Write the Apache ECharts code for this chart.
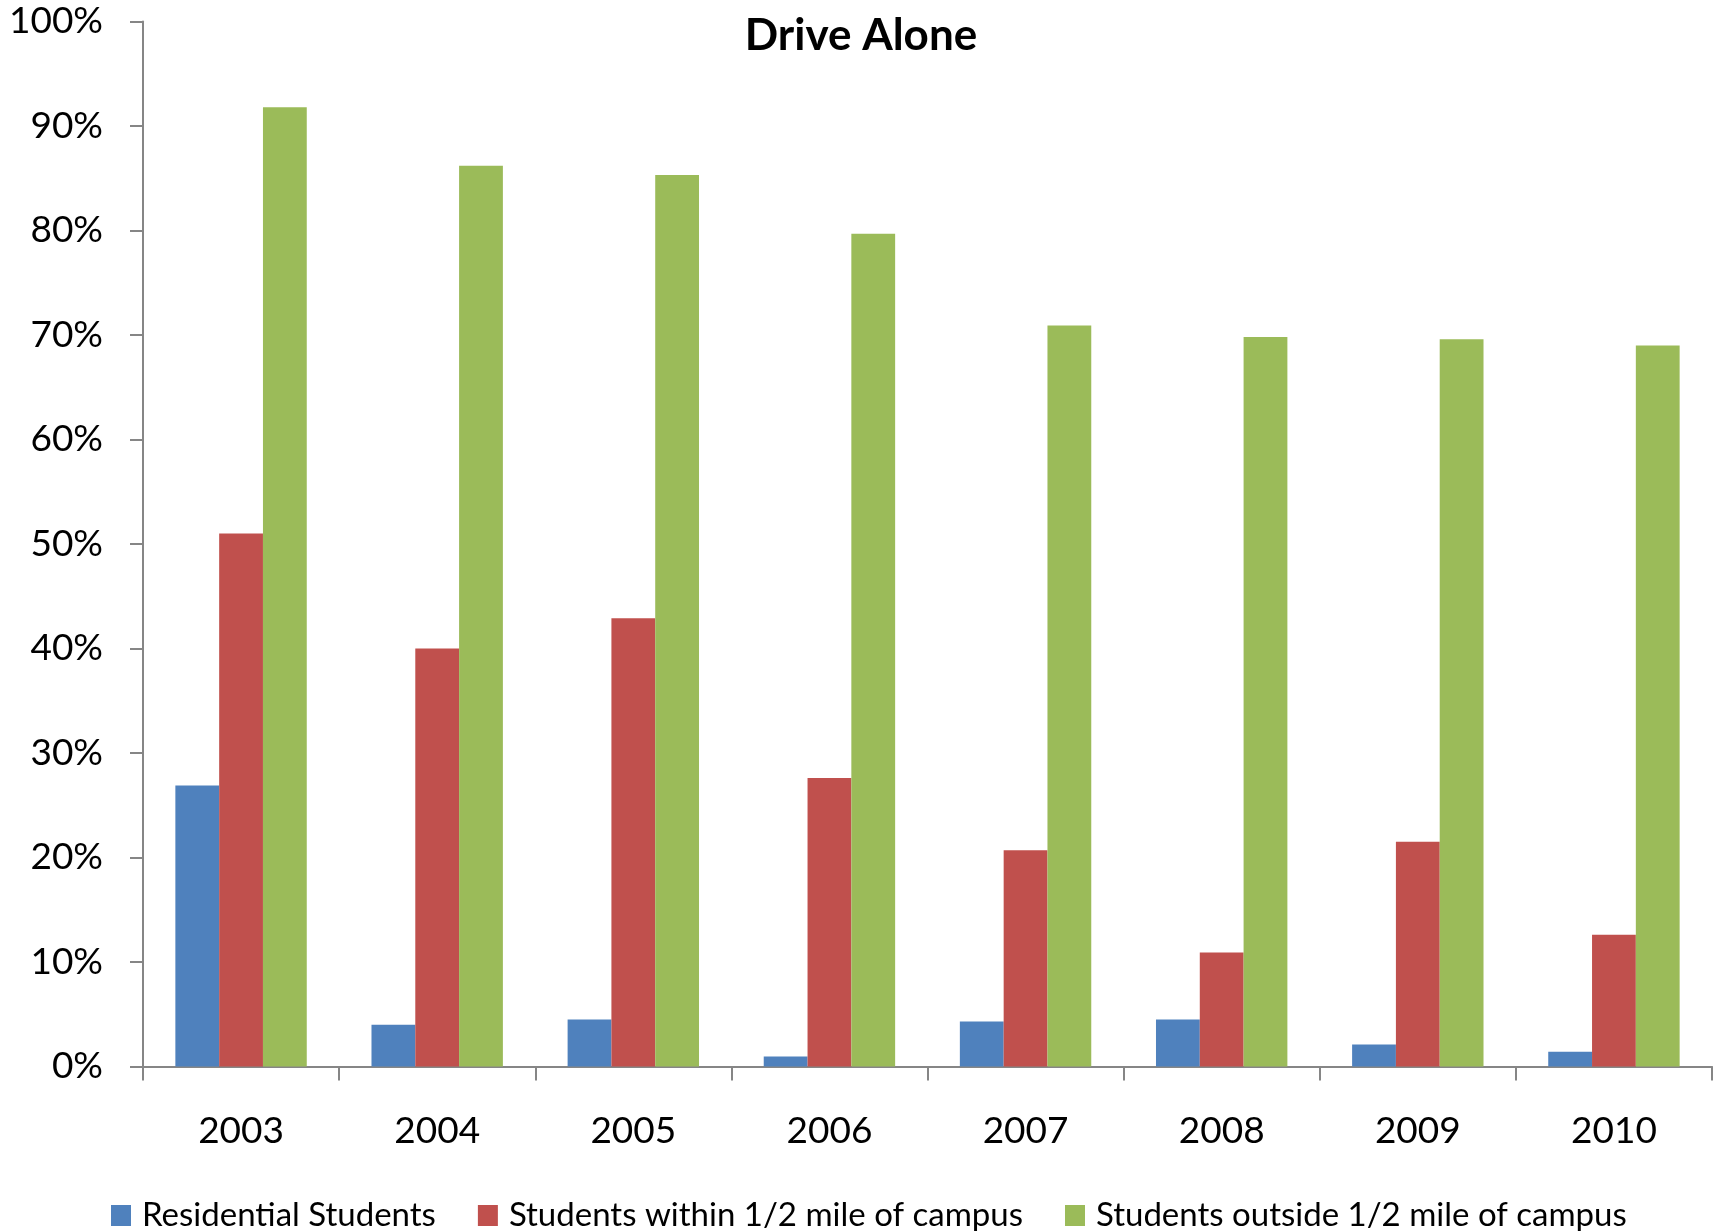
<!DOCTYPE html>
<html>
<head>
<meta charset="utf-8">
<script src="https://cdn.jsdelivr.net/npm/echarts@6/dist/echarts.min.js"></script>
<style>
  html, body { margin: 0; padding: 0; background: #fff; }
  #chart { width: 1719px; height: 1231px; }
</style>
</head>
<body>
<div id="chart"></div>
<script>
const years = ["2003", "2004", "2005", "2006", "2007", "2008", "2009", "2010"];
const residential = [26.9, 4.0, 4.5, 0.95, 4.3, 4.5, 2.1, 1.4];
const within = [51.0, 40.0, 42.9, 27.6, 20.7, 10.9, 21.5, 12.6];
const outside = [91.8, 86.2, 85.3, 79.7, 70.9, 69.8, 69.6, 69.0];

const font = "Lato, 'Open Sans', sans-serif";
const axisGray = "#868686";

const chart = echarts.init(document.getElementById("chart"));
chart.setOption({
  animation: false,
  color: ["#4F81BD", "#C0504D", "#9BBB59"],
  title: {
    text: "Drive Alone",
    left: 856,
    textAlign: "center",
    top: 9,
    textStyle: { fontFamily: font, fontSize: 44, fontWeight: "bold", color: "#000" },
  },
  legend: {
    data: ["Residential Students", "Students within 1/2 mile of campus", "Students outside 1/2 mile of campus"],
    left: 106,
    top: 1194,
    icon: "rect",
    itemWidth: 20,
    itemHeight: 21,
    itemGap: 42,
    textStyle: { fontFamily: font, fontSize: 33, color: "#000", padding: [0, 0, 0, 6] },
  },
  grid: {
    left: 143,
    right: 7,
    top: 21.5,
    bottom: 164.5,
    containLabel: false,
  },
  xAxis: {
    type: "category",
    data: years,
    axisLine: { lineStyle: { color: axisGray, width: 2 } },
    axisTick: { show: true, length: 14, lineStyle: { color: axisGray, width: 2 } },
    axisLabel: { fontFamily: font, fontSize: 37, color: "#000", margin: 46 },
  },
  yAxis: {
    type: "value",
    min: 0,
    max: 100,
    interval: 10,
    axisLine: { show: true, lineStyle: { color: axisGray, width: 2 } },
    axisTick: { show: true, length: 13, lineStyle: { color: axisGray, width: 2 } },
    splitLine: { show: false },
    axisLabel: { fontFamily: font, fontSize: 37, color: "#000", margin: 40, formatter: "{value}%" },
  },
  series: [
    { name: "Residential Students", type: "bar", data: residential, barGap: "0%", barCategoryGap: "33%" },
    { name: "Students within 1/2 mile of campus", type: "bar", data: within, barGap: "0%", barCategoryGap: "33%" },
    { name: "Students outside 1/2 mile of campus", type: "bar", data: outside, barGap: "0%", barCategoryGap: "33%" },
  ],
});
</script>
</body>
</html>
